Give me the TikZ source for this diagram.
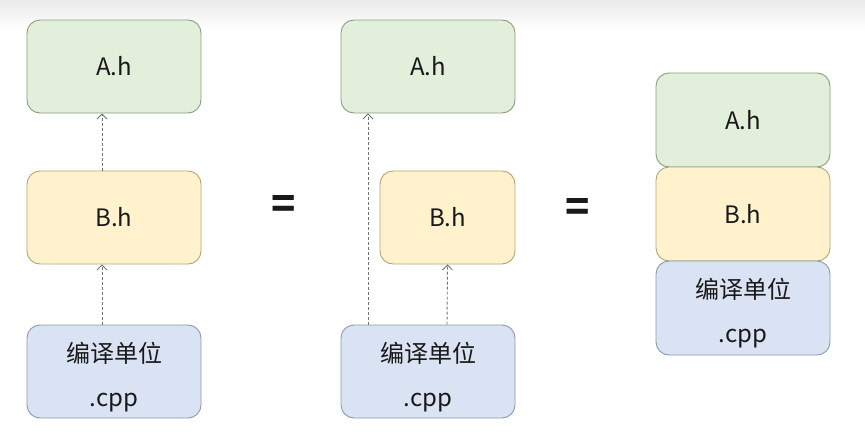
\documentclass[tikz,border=0pt]{standalone}
\usepackage{fontspec}
\setmainfont{Noto Sans CJK SC}
\usetikzlibrary{arrows.meta,calc}
\definecolor{gfill}{HTML}{E2EFDA}
\definecolor{gdraw}{HTML}{8E9C7E}
\definecolor{yfill}{HTML}{FFF2CC}
\definecolor{ydraw}{HTML}{B3A577}
\definecolor{bfill}{HTML}{DAE3F3}
\definecolor{bdraw}{HTML}{8D9AA9}
\newcommand{\cpptext}{\rule{0pt}{31pt}编译单位\\[16pt].cpp}
\tikzset{
  box/.style={rectangle, rounded corners=13pt, line width=0.9pt, minimum width=174pt, minimum height=93pt, inner sep=0pt, font=\fontsize{24}{28}\selectfont, align=center, text=black!90},
  gbox/.style={box, fill=gfill, draw=gdraw},
  ybox/.style={box, fill=yfill, draw=ydraw},
  bbox/.style={box, fill=bfill, draw=bdraw},
  dep/.style={draw=black!55, line width=0.9pt, dash pattern=on 3pt off 2pt, -{Straight Barb[length=5pt,width=10pt,line width=0.8pt]}},
  eq/.style={font=\fontsize{40}{42}\selectfont\bfseries, text=black!90}
}
\begin{document}
\begin{tikzpicture}[x=1pt,y=-1pt]
\useasboundingbox (0,0) rectangle (865,439);
\fill[white] (0,0) rectangle (865,439);
\shade[top color=black!8, bottom color=white] (0,0) rectangle (865,30);
% left column
\node[gbox] (A1) at (114,66.5) {A.h};
\node[ybox] (B1) at (114,217.5) {B.h};
\node[bbox] (C1) at (114,371.5) {\cpptext};
\draw[dep] ($(C1.north)+(-12,0)$) -- ($(B1.south)+(-12,0)$);
\draw[dep] ($(B1.north)+(-12,0)$) -- ($(A1.south)+(-12,0)$);
\node[eq] (E1) at (284,207) {=};
% middle column
\node[gbox] (A2) at (428,66.5) {A.h};
\node[ybox, minimum width=135pt] (B2) at (447.5,217.5) {B.h};
\node[bbox] (C2) at (428,371.5) {\cpptext};
\draw[dep] ($(C2.north)+(-60,0)$) -- ($(A2.south)+(-60,0)$);
\draw[dep] ($(C2.north)+(19,0)$) -- ($(B2.south)+(0,0)$);
\node[eq] (E2) at (578,210) {=};
% right column
\node[gbox, minimum height=94pt] (A3) at (743,120) {A.h};
\node[ybox, minimum height=94pt] (B3) at (743,214) {B.h};
\node[bbox, minimum height=94pt] (C3) at (743,308) {\cpptext};
\end{tikzpicture}
\end{document}
